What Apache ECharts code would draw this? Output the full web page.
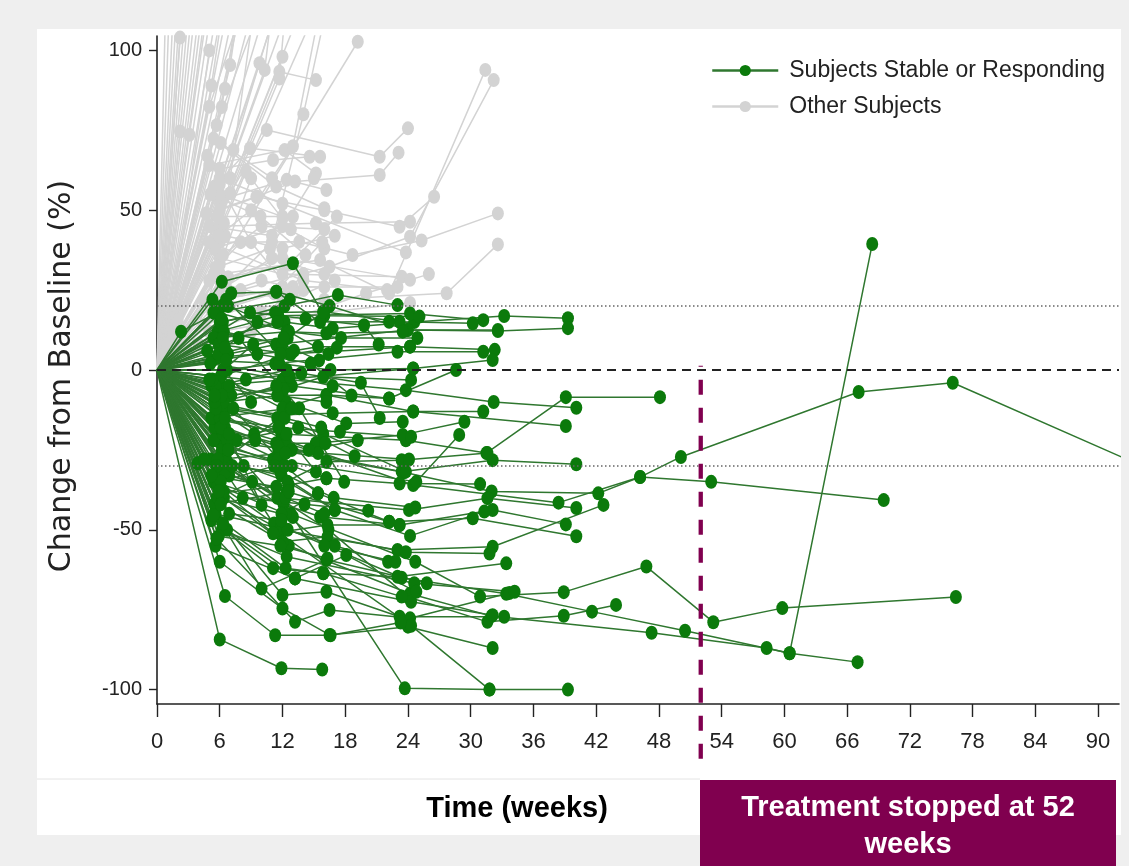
<!DOCTYPE html>
<html><head><meta charset="utf-8">
<script src="https://cdn.jsdelivr.net/npm/echarts@6/dist/echarts.min.js"></script>
<style>html,body{margin:0;padding:0;background:#efefef}#c{width:1129px;height:866px}</style>
</head><body><div id="c"></div>
<script>
// ---- tick labels ----
const xTickLabels = [0,6,12,18,24,30,36,42,48,54,60,66,72,78,84,90];
const yTickLabels = [-100,-50,0,50,100];
// ---- reference lines (% change) ----
const progressionLine = 20;
const responseLine = -30;
const baselineLine = 0;
const treatmentStopWeek = 52;
// ---- names ----
const seriesNames = ['Subjects Stable or Responding','Other Subjects'];

// ---- each subject: [week, % change from baseline] visits after baseline (0,0) ----
const stableSubjects = [
 [[6.2,-12],[12.3,-22],[24.5,-36],[38.4,-41.5],[46.2,-33.5],[50.1,-27.2],[67.1,-6.9],[76.1,-4],[96,-32.6]],
 [[5.8,-18],[11.6,-25],[23.6,-32],[32,-38],[42.2,-38.6],[46.2,-33.5],[53,-35],[69.5,-40.7]],
 [[6.4,-40],[12.6,-55],[24.2,-70],[32,-77],[47.3,-82.2],[58.3,-87],[60.5,-88.6],[68.4,39.4]],
 [[5.5,-35],[11.2,-48],[23.4,-65],[33.4,-70],[41.6,-75.6],[50.5,-81.6],[60.5,-88.6],[67,-91.4]],
 [[6.6,-30],[12.8,-45],[24.7,-60],[30.9,-70.9],[38.9,-69.5],[46.8,-61.5],[53.2,-78.9],[59.8,-74.5],[76.4,-71]],
 [[5.9,-28],[16.4,-50],[24,-71],[31.6,-78.8],[38.9,-76.9],[43.9,-73.5]],
 [[6.1,-15],[11.9,-20],[23.8,-22],[31.5,-26],[39.1,-8.5],[48.1,-8.5]],
 [[5.6,10],[12.2,15],[16.8,13],[24.6,15],[33.2,16.9],[39.3,16.2]],
 [[6.8,5],[11.4,8],[23.9,12.5],[32.6,12.2],[39.3,13.1]],
 [[5.2,-5],[12.5,-3],[23.8,-6.3],[32.2,-10],[40.1,-11.8]],
 [[6.3,-10],[11.7,-8],[16.2,-7.8],[24.5,-13],[39.1,-17.5]],
 [[5.7,-22],[12.9,-25],[23.4,-31.8],[32.1,-28.2],[40.1,-29.5]],
 [[6.5,-30],[11.5,-40],[24.1,-43.8],[31.6,-40.1],[40.1,-43.2]],
 [[5.4,-35],[12.1,-42],[15.6,-45.9],[23.2,-48.5],[32.1,-43.8],[39.1,-48.3]],
 [[6.9,-33],[12.4,-38],[22.2,-47.5],[30.2,-46.4],[40.1,-52]],
 [[6.2,-40],[11.8,-50],[23,-56.3],[32.1,-55.3],[42.7,-42.2]],
 [[5.9,-20],[13,-46],[23.7,-99.6],[31.8,-100],[39.3,-100]],
 [[5.4,-45.4],[12.3,-62],[15.9,-63.6],[23,-64.7],[33.4,-60.5]],
 [[6.1,-2],[12.7,5],[24.2,7.3],[32.3,6.3]],
 [[5.3,3],[11.3,2],[23,5.7],[31.2,5.7]],
 [[6.7,0],[12,-3],[24.5,0.5],[32.1,3.1]],
 [[5.8,12],[11.6,17],[24.2,17.7],[31.2,15.6]],
 [[6.4,8],[12.5,10],[15.9,18.2],[23.2,15.1],[30.2,14.6]],
 [[6.2,20],[11.4,24.5],[16.5,20],[24,12.5],[32.6,12.5]],
 [[5.6,-55],[13.2,-65.2],[24.3,-72.5],[32.1,-76.7]],
 [[6.3,-48],[12,-70.4],[16.2,-69.4],[23.2,-77.2],[33.2,-77.2]],
 [[5.7,-52.7],[13.2,-78.8],[16.5,-75.1],[24.2,-77.7],[33.7,-69.8]],
 [[6,-60],[12,-74.6],[16.5,-82.9],[24,-80.3],[32.1,-87]],
 [[6.6,-25],[11.7,-51],[24.3,-80],[31.8,-100]],
 [[5.1,-28],[11.9,-33],[17,-43.8],[24.2,-51.9],[31.3,-44.3]],
 [[6,-38.6],[12.6,-36],[16.2,-33.9],[23.2,-35.5],[30.9,-35.7]],
 [[5.7,-33.4],[11.4,-36.5],[16.2,-28.7],[23.4,-28.2],[31.6,-26]],
 [[6.5,-12],[12.2,-14],[16.8,-13.5],[24.5,-13],[31.2,-13]],
 [[5.5,-18],[11.4,-22.9],[15.2,-22.9],[23.5,-20.3],[29.4,-16.2]],
 [[6.2,-50],[12.4,-58.4],[24.6,-66.7],[34.2,-69.4]],
 [[5.9,-42],[12,-53.7],[16.3,-52.2],[23.8,-57],[31.8,-57.4]],
 [[7.1,-8],[12.9,-5],[22.2,-8.9],[28.6,0]],
 [[6.4,-24],[11.1,-28],[24.8,-35],[28.9,-20.3]],
 [[6,-84.3],[11.9,-93.3],[15.8,-93.7]],
 [[6.5,-70.7],[11.3,-83],[16.6,-83],[23.3,-79]],
 [[5.6,-45],[10,-68.4],[16.2,-59.4],[25.8,-66.7]],
 [[6.1,-5],[12.3,-10],[18.1,-16.7],[23.5,-16.2]],
 [[5.3,-15],[11.7,-18],[17.5,-19.3],[24.3,-20.9]],
 [[6.8,-8],[12.1,-6],[15.9,-2.1],[24.3,-3.1]],
 [[5.9,4],[13.1,6],[15.4,7.3],[24.2,7.3]],
 [[6.3,15],[12.2,20],[17.3,23.5],[23,20.3]],
 [[6.2,27.6],[13,33.4],[16,17],[25.1,16.7]],
 [[7.1,24],[11.4,24.5],[15.6,15],[22.2,15.1]],
 [[2.3,12],[5.8,18],[12.6,12],[17.6,10],[24.9,10]],
 [[5.4,-22],[12.2,-30],[15.4,-38.6],[22.2,-47.5]],
 [[6.6,-30],[11.8,-32],[16.9,-40],[24.7,-43]],
 [[6.2,-12],[11.5,-15],[15.9,-20],[23.8,-31.8]],
 [[5.5,-45],[12.5,-50],[17,-55],[22.1,-60]],
 [[6.4,-38],[11.1,-51.1],[16.3,-48.5],[23.2,-48.5]],
 [[5.2,-47],[11.1,-62],[15.9,-63.6],[23.4,-70.9]],
 [[6.7,-50],[13.2,-65.2],[18.1,-57.9],[24.8,-69.4]],
 [[5.8,-36],[12.3,-45],[16,-55],[22.8,-60]],
 [[6.3,0],[11.7,2],[16.6,0],[24.5,0.5]],
 [[5.4,10],[12.4,12],[16.2,11.5],[23.5,12]],
 [[6.1,-2],[12,-12],[16.2,-7.8],[22.2,-8.9]],
 [[6.5,-18],[11.6,-24],[15.4,-26],[24.1,-28]],
 [[5.9,8],[12.8,5],[17.2,7]],
 [[6.9,-5],[11.5,-8],[16.2,-10]],
 [[5.3,-15],[12.3,-20],[15.2,-31.8]],
 [[6.2,-25],[12.9,-30],[16.2,-33.9]],
 [[5.7,-40],[11.9,-45],[15.4,-38.6]],
 [[6.6,-28],[12.5,-35],[17,-43.8]],
 [[6,15],[11.3,18],[15.9,18.2]],
 [[6.8,20],[12.6,12],[16.4,5]],
 [[5.5,-10],[12.2,-15],[15.7,-18]],
 [[6.3,-20],[11.6,-28],[16.1,-22.9]],
 [[5.1,2],[12.7,-2],[16.8,-5]],
 [[6.5,-32],[12.3,-40],[16,-45]],
 [[5.9,-52],[11.8,-55],[16.3,-59]],
 [[6.4,12],[12,8],[15.5,3]],
 [[8.5,-3],[13.8,-1],[19.5,-4],[21.3,-15]],
 [[8.9,18],[14.2,16],[19.8,14],[21.2,8]],
 [[9.3,-20],[14.5,-25],[19.2,-22]],
 [[8.2,-40],[14.1,-42],[20.2,-44]],
 [[9.6,5],[14.7,2],[18.6,-8]],
 [[7.6,-22],[13.5,-18],[18.9,-27]],
 [[7.8,10],[13.6,-12],[17.9,-35]],
 [[5.6,-5],[12.4,0]],[[6.4,-10],[11.4,-5]],[[5.2,-15],[12.8,-12]],[[6.7,-22],[11.6,-18]],
 [[5.8,-28],[12.3,-26]],[[6.1,-35],[11.2,-30]],[[5.5,-42],[12.6,-38]],[[6.9,-45],[11.9,-47]],
 [[5.9,5],[12.1,10]],[[6.3,10],[11.5,15]],[[5.4,18],[12.7,22]],[[6.6,22],[11.8,5]],
 [[6.2,-8],[12.2,-30]],[[5.7,-30],[12.9,-12]],[[6,-15],[10,-42.2]],[[6.4,0],[9,-10]],
 [[5.3,-3],[9.2,8]],[[6.8,-25],[9.4,-22]],[[5.8,-40],[9.1,-35]],[[6.1,-18],[8.3,-30]],
 [[6.5,7],[9.6,15]],[[5.6,-12],[12.4,-20]],
 [[6.3,-48]],[[5.7,-52.7]],[[5.4,-45.4]],[[6.8,-25]],[[5.5,-10]],[[6.6,3]],[[5.9,-38]],
 [[6.2,16]],[[5.3,22]],[[3.9,-29.2]],[[6.9,-20]],[[5.2,-33]],[[5.5,-8]],[[6.5,-15]],
 [[4.5,-28]],[[6.1,-42]],[[5,-3]],[[7.3,-12]],[[4.8,6]],[[7.2,-30]]
];

const otherSubjects = [
 [[1.05,146]],[[2,146]],[[2.8,146]],[[3.5,146]],[[4.3,146]],[[5.2,146]],[[6,146]],
 [[6.7,146]],[[7.4,146]],[[8.7,146]],[[9.5,146]],[[10.4,146]],[[11.8,146]],
 [[13.4,146]],[[14.8,146]],[[16.2,146]],[[17.8,146]],[[19.7,146]],
 [[1.5,146]],[[2.4,146]],[[3.1,146]],[[3.9,146]],[[4.7,146]],[[5.6,146]],[[8,146]],
 [[2.2,104]],
 [[5,82.4],[12,150]],
 [[6.2,82.3],[9,140]],
 [[5.7,76.6],[14,150]],
 [[5.4,72.4],[11.4,57.4],[16,50.6]],
 [[5,64.1],[12.2,68.8],[15.2,61.5]],
 [[6,63],[11.1,65.7],[14.6,66.7]],
 [[5.5,57.4],[8.9,69.4],[15.6,66.7]],
 [[6,53.2],[12.4,59.5],[16.2,56.3]],
 [[4.7,49],[9.5,54.2],[13.2,59],[21.3,61],[23.1,68]],
 [[7,55.3],[10.5,75.1],[21.3,66.7],[24,75.6]],
 [[7.3,68.8],[12,120]],
 [[7,95.4],[9,140]],
 [[9.8,96]],
 [[10.3,93.9],[12,140]],
 [[12,98]],
 [[11.7,93.3],[15.2,90.7]],
 [[11.7,91.2],[13,140]],
 [[19.2,102.7]],
 [[2.2,74.6]],
 [[3.1,73.6],[6,140]],
 [[6,40],[13.6,40.1],[18.7,36],[25.3,40.5],[32.6,49]],
 [[6,30],[15.6,34.4],[22.2,24],[31.4,93.9]],
 [[8,25],[16.5,32.3],[24.2,41.7],[32.2,90.7]],
 [[6,18],[16,22],[27.7,24],[32.6,39.3]],
 [[6,35],[12,30],[23.4,29.2]],
 [[6,28],[12,35],[24.2,28.2]],
 [[6,60],[12,52],[23.8,36.8]],
 [[6,45],[15.2,45.9],[24.2,46.4]],
 [[6,50],[9.6,54.2],[16,50],[23.2,44.8],[26.5,54.2]],
 [[5,45],[11,42]],
 [[5.5,38],[12,45],[16,38]],
 [[6,25],[11,35],[16,30]],
 [[4.5,22],[10,28],[14,25]],
 [[6,33],[8,40]],
 [[5,28],[12,22]],
 [[6.5,42],[12,38],[17,42]],
 [[7,20],[12,26],[16,26]],
 [[5,12],[10,18],[17,28]],
 [[4,8],[9,12],[14,30]],
 [[5.8,48],[13,48]],
 [[6.3,36],[10,45],[16,44]],
 [[6,55],[12,48]],
 [[4.8,67]],
 [[6.1,71],[11,60]],
 [[6.5,88]],
 [[5.2,89],[8,150]],
 [[1.5,10],[6,30]],
 [[2,15],[6,45]],
 [[1,8],[5,100]],
 [[3,5],[9,60]],
 [[6,10],[12,15],[20,24],[26,30]],
 [[6,12],[16,18],[24.2,21]],
 [[6,22],[13,26],[23,26]],
 [[5,40],[14,28],[22,25]],
 [[6,58],[9,40],[13,24]],
 [[5.4,30],[7,60],[10,130]],
 [[6.6,26],[11,40],[14,80],[18,140]],
 [[5.9,42],[9,50],[13,70],[16,120]],
 [[5.6,32],[10.8,38],[15,60]],
 [[6.4,46],[8.5,62],[12.8,44]],
 [[5.1,55],[9.9,48],[14.2,36]],
 [[6.8,29],[12.6,33],[17.2,48]],
 [[5.3,18],[11.2,24],[15.8,40]]
];

const GREEN = '#0b7a0b', GREEN_LINE = '#2f772f', GREY = '#d3d3d3';
const SANS = "'Liberation Sans', Arial, Helvetica, sans-serif";

function subjectSeries(name, visits, color, lineColor, z) {
  return {
    type: 'line', name: name, z: z, silent: true, animation: false,
    symbol: 'circle', symbolSize: [12, 14], showAllSymbol: true, clip: true,
    itemStyle: { color: color },
    lineStyle: { color: lineColor, width: 1.5 },
    emphasis: { disabled: true },
    data: [{ value: [0, 0], symbol: 'none' }].concat(visits.map(v => ({ value: v })))
  };
}

const series = [];
otherSubjects.forEach(s => series.push(subjectSeries(seriesNames[1], s, GREY, GREY, 2)));
stableSubjects.forEach(s => series.push(subjectSeries(seriesNames[0], s, GREEN, GREEN_LINE, 3)));
series.push({
  type: 'line', name: 'ref', data: [], z: 6, silent: true, animation: false,
  markLine: {
    silent: true, symbol: ['none', 'none'], label: { show: false }, animation: false,
    data: [
      { yAxis: progressionLine, lineStyle: { type: [1.5, 2.5], color: '#666', width: 1.6 } },
      { yAxis: responseLine, lineStyle: { type: [1.5, 2.5], color: '#666', width: 1.6 } },
      { yAxis: baselineLine, lineStyle: { type: [9, 6], color: '#222', width: 1.8 } }
    ]
  }
});

const staticGraphics = [
  { type: 'rect', z: -10, silent: true, shape: { x: 37, y: 29, width: 1084, height: 806 }, style: { fill: '#ffffff' } },
  { type: 'line', z: -9, silent: true, shape: { x1: 37, y1: 779, x2: 700, y2: 779 }, style: { stroke: '#e4e4e4', lineWidth: 1 } },
  { type: 'text', z: 100, silent: true, x: 62, y: 376, rotation: Math.PI / 2,
    style: { text: 'Change from Baseline (%)', font: "30px 'DejaVu Sans', sans-serif", fill: '#222', align: 'center', verticalAlign: 'middle' } },
  { type: 'text', z: 100, silent: true, x: 517, y: 809,
    style: { text: 'Time (weeks)', font: "bold 29px " + SANS, fill: '#000', align: 'center', verticalAlign: 'middle' } },
  { type: 'rect', z: 100, silent: true, shape: { x: 700, y: 780, width: 416, height: 86 }, style: { fill: '#80004f' } },
  { type: 'text', z: 101, silent: true, x: 908, y: 826,
    style: { text: 'Treatment stopped at 52\nweeks', font: "bold 29px " + SANS, lineHeight: 37, fill: '#ffffff', align: 'center', verticalAlign: 'middle' } }
];

const chart = echarts.init(document.getElementById('c'), null, { renderer: 'canvas' });
chart.setOption({
  backgroundColor: '#efefef',
  animation: false,
  grid: { left: 157, right: 10, top: 36, bottom: 162, containLabel: false },
  xAxis: {
    type: 'value', min: 0, max: 92,
    axisLine: { show: true, onZero: false, lineStyle: { color: '#222', width: 1.6 } },
    axisTick: { show: true, length: 13, customValues: xTickLabels, lineStyle: { color: '#222', width: 1.4 } },
    axisLabel: { customValues: xTickLabels, fontFamily: SANS, fontSize: 22, color: '#222', margin: 27 },
    splitLine: { show: false }
  },
  yAxis: {
    type: 'value', min: -104.5, max: 104.5,
    axisLine: { show: true, onZero: false, lineStyle: { color: '#222', width: 1.6 } },
    axisTick: { show: true, length: 8, customValues: yTickLabels, lineStyle: { color: '#222', width: 1.4 } },
    axisLabel: { customValues: yTickLabels, fontFamily: SANS, fontSize: 20, color: '#222', margin: 15 },
    splitLine: { show: false }
  },
  legend: {
    data: seriesNames, orient: 'vertical', left: 706, top: 54,
    itemWidth: 66, itemHeight: 14, itemGap: 13,
    lineStyle: { width: 2.5 },
    textStyle: { fontFamily: SANS, fontSize: 23, color: '#222', padding: [0, 0, 0, 6] },
    selectedMode: false
  },
  series: series,
  graphic: staticGraphics
});

// vertical dashed line at week 52, positioned through the chart's own scales
const top52 = chart.convertToPixel({ xAxisIndex: 0, yAxisIndex: 0 }, [treatmentStopWeek, 1.3]);
const axisBottom = chart.convertToPixel({ xAxisIndex: 0, yAxisIndex: 0 }, [treatmentStopWeek, -104.5]);
chart.setOption({
  graphic: staticGraphics.concat([
    { type: 'line', z: 50, silent: true,
      shape: { x1: top52[0], y1: top52[1], x2: top52[0], y2: axisBottom[1] + 56 },
      style: { stroke: '#80004f', lineWidth: 4.3, lineDash: [15, 13], lineDashOffset: 14 } }
  ])
}, { replaceMerge: ['graphic'] });
</script>
</body></html>
